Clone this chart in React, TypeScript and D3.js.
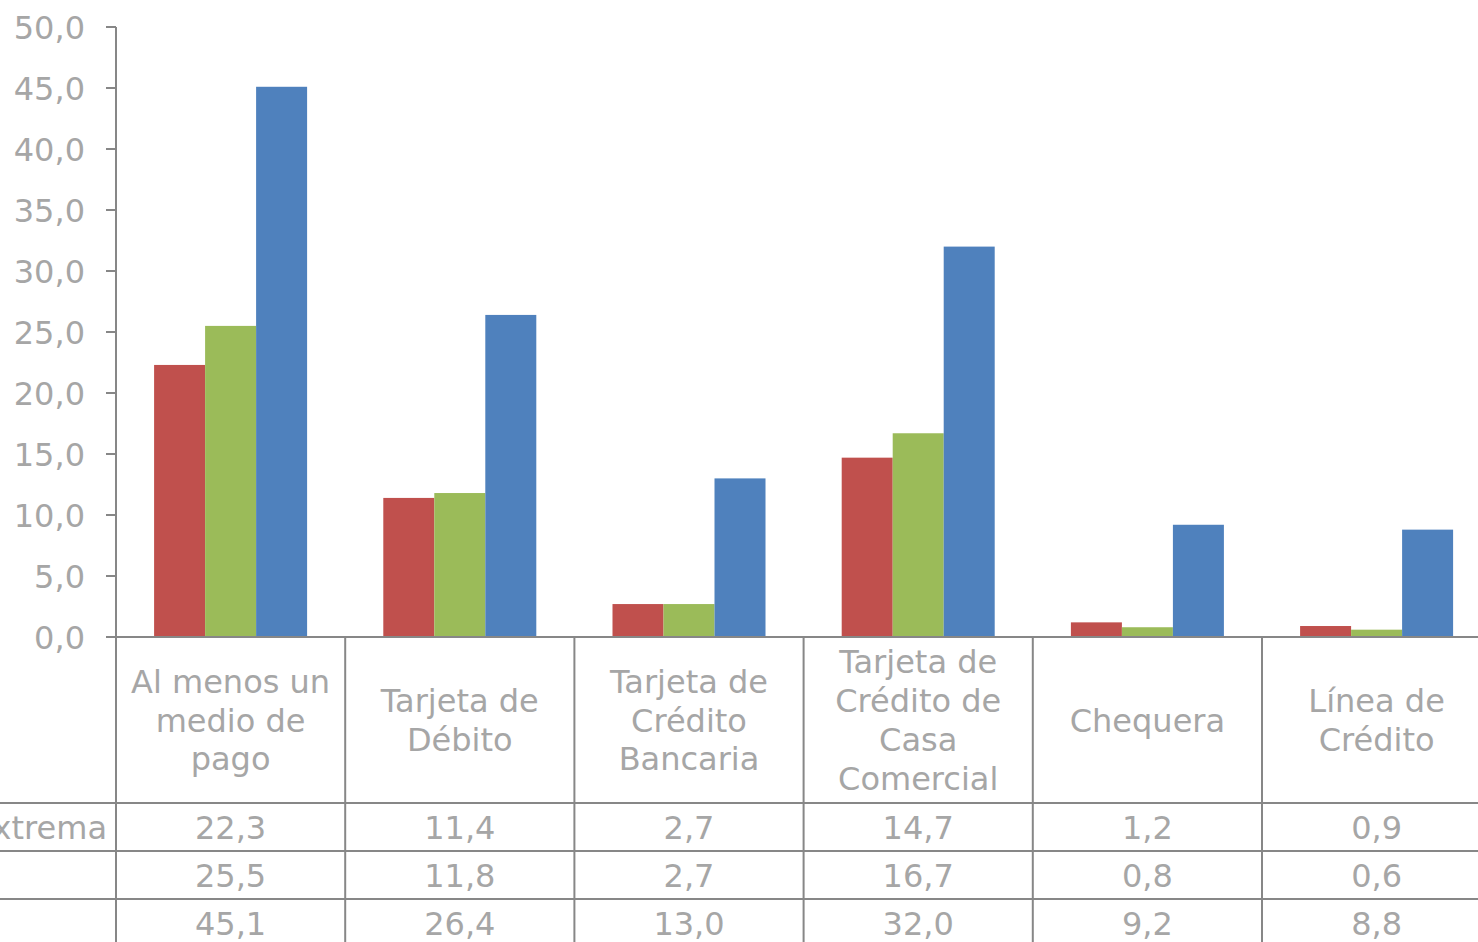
import React, { useLayoutEffect, useRef, useState } from "react";
import * as d3 from "d3";

const categories = [
  ["Al menos un", "medio de", "pago"],
  ["Tarjeta de", "Débito"],
  ["Tarjeta de", "Crédito", "Bancaria"],
  ["Tarjeta de", "Crédito de", "Casa", "Comercial"],
  ["Chequera"],
  ["Línea de", "Crédito"],
];
const seriesNames = ["Pobreza extrema", "Pobreza no extrema", "No pobres"];
const seriesLabelsShown = ["Pobreza extrema", "", ""];
const pobrezaExtrema = [22.3, 11.4, 2.7, 14.7, 1.2, 0.9];
const pobrezaNoExtrema = [25.5, 11.8, 2.7, 16.7, 0.8, 0.6];
const noPobres = [45.1, 26.4, 13.0, 32.0, 9.2, 8.8];
const seriesValues = [pobrezaExtrema, pobrezaNoExtrema, noPobres];
const seriesColors = ["#C0504D", "#9BBB59", "#4F81BD"];
const yTicks = [0, 5, 10, 15, 20, 25, 30, 35, 40, 45, 50];

const W = 1478;
const H = 942;
const axisX = 116;
const baseY = 637;
const topY = 27;
const colW = 229.2;
const headerBottom = 803;
const rowH = 48;
const textColor = "#A6A6A6";
const lineColor = "#878787";
const font = "Verdana, 'DejaVu Sans', sans-serif";
const fs = 32;

const fmt = (v: number) => v.toFixed(1).replace(".", ",");

export default function App() {
  const labelRef = useRef<SVGTextElement>(null);
  const [labelStart, setLabelStart] = useState(-160);
  useLayoutEffect(() => {
    if (labelRef.current) {
      const w = labelRef.current.getComputedTextLength();
      setLabelStart(107 - w);
    }
  }, []);

  const idx = categories.map((_, i) => String(i));
  const x = d3.scaleBand<string>().domain(idx).range([axisX, axisX + colW * categories.length]).paddingInner(0).paddingOuter(0);
  const xs = d3.scaleBand<string>().domain(seriesNames).range([0, x.bandwidth()]).paddingInner(0).paddingOuter(0.747);
  const y = d3.scaleLinear().domain([0, 50]).range([baseY, topY]);

  const rowLines = [headerBottom, headerBottom + rowH, headerBottom + 2 * rowH];
  const lineH = 38.7;
  const headerCenter = 720;

  return (
    <svg width={W} height={H} style={{ position: "absolute", left: 0, top: 0, background: "#fff" }} fontFamily={font}>
      {seriesValues.map((vals, s) =>
        vals.map((v, i) => (
          <rect
            key={`b${s}-${i}`}
            x={(x(String(i)) as number) + (xs(seriesNames[s]) as number)}
            y={y(v)}
            width={xs.bandwidth()}
            height={baseY - y(v)}
            fill={seriesColors[s]}
          />
        ))
      )}
      <line x1={axisX} x2={axisX} y1={topY} y2={H} stroke={lineColor} strokeWidth={2} />
      {yTicks.map((t) => (
        <g key={`t${t}`}>
          <line x1={axisX - 10} x2={axisX} y1={y(t)} y2={y(t)} stroke={lineColor} strokeWidth={2} />
          <text x={85} y={y(t)} dy="0.36em" textAnchor="end" fontSize={fs} fill={textColor}>
            {fmt(t)}
          </text>
        </g>
      ))}
      <line x1={axisX} x2={W} y1={baseY} y2={baseY} stroke={lineColor} strokeWidth={2} />
      {idx.map((d, i) =>
        i === 0 ? null : (
          <line key={`v${i}`} x1={x(d) as number} x2={x(d) as number} y1={baseY} y2={H} stroke={lineColor} strokeWidth={2} />
        )
      )}
      {rowLines.map((ly, i) => (
        <line key={`h${i}`} x1={0} x2={W} y1={ly} y2={ly} stroke={lineColor} strokeWidth={2} />
      ))}
      {categories.map((lines, i) => {
        const cx = (x(String(i)) as number) + x.bandwidth() / 2;
        const startY = headerCenter - ((lines.length - 1) * lineH) / 2;
        return (
          <text key={`c${i}`} textAnchor="middle" fontSize={fs} fill={textColor}>
            {lines.map((ln, j) => (
              <tspan key={j} x={cx} y={startY + j * lineH} dy="0.36em">
                {ln}
              </tspan>
            ))}
          </text>
        );
      })}
      {seriesLabelsShown.map((n, s) =>
        n ? (
          <text
            key={`s${s}`}
            ref={s === 0 ? labelRef : undefined}
            x={labelStart}
            y={headerBottom + rowH * s + rowH / 2}
            dy="0.36em"
            fontSize={fs}
            fill={textColor}
          >
            {n}
          </text>
        ) : null
      )}
      {seriesValues.map((vals, s) =>
        vals.map((v, i) => (
          <text
            key={`val${s}-${i}`}
            x={(x(String(i)) as number) + x.bandwidth() / 2}
            y={headerBottom + rowH * s + rowH / 2}
            dy="0.36em"
            textAnchor="middle"
            fontSize={fs}
            fill={textColor}
          >
            {fmt(v)}
          </text>
        ))
      )}
    </svg>
  );
}
